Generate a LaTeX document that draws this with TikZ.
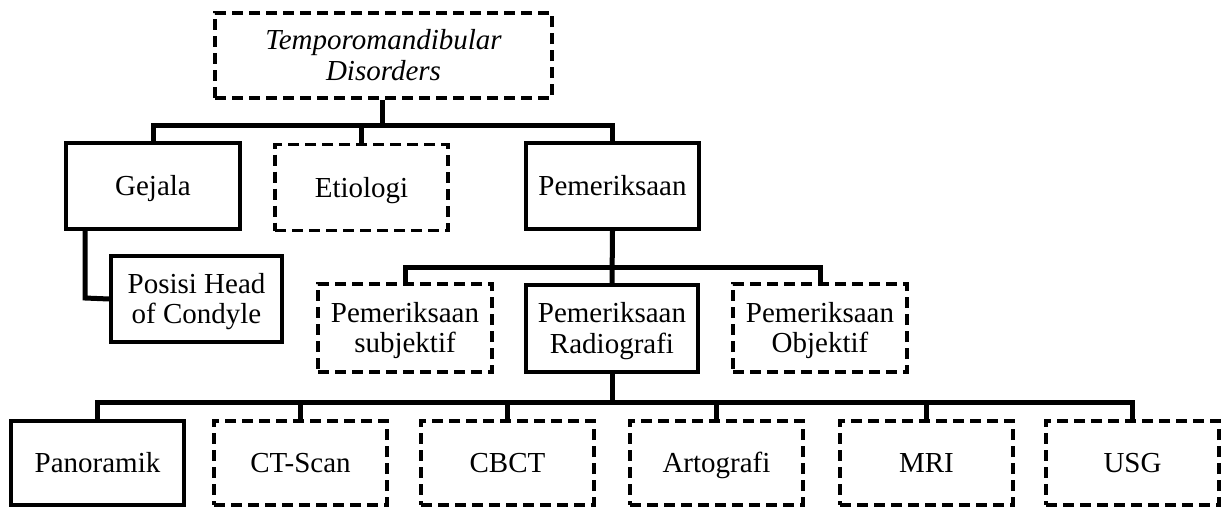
\documentclass[tikz,border=0pt]{standalone}
\usepackage{fontspec}
\setmainfont{Liberation Serif}
\begin{document}
\begin{tikzpicture}[x=1pt,y=-1pt,
  every node/.style={font=\fontsize{29}{30.5}\selectfont, align=center, inner sep=0pt, text height=19pt, text depth=0pt},
  twoline/.style={text height=49.5pt},
  solidbox/.style={draw=black, line width=3.5pt, rectangle, minimum width=#1, minimum height=86pt},
  solidbox/.default=173pt,
  dashbox/.style={draw=black, line width=3.2pt, rectangle, dash pattern=on 11pt off 6pt, minimum width=#1, minimum height=86pt},
  dashbox/.default=173pt,
  conn/.style={line width=5pt, line join=miter}]
\useasboundingbox (0,0) rectangle (1229,507);

% level 0
\node[dashbox=337pt, minimum height=85pt, twoline] (top) at (383.5,55.5) {\itshape Temporomandibular\\\itshape Disorders};

% level 1
\node[solidbox=174pt] (gej) at (153,186) {Gejala};
\node[dashbox] (eti) at (361.5,187.5) {Etiologi};
\node[solidbox] (pem) at (612.5,186) {Pemeriksaan};
\node[solidbox=171pt, twoline] (pos) at (196.5,299) {Posisi Head\\of Condyle};

% level 2
\node[dashbox=174pt, minimum height=88pt, twoline] (sub) at (405,328) {Pemeriksaan\\subjektif};
\node[solidbox=172pt, minimum height=87pt, twoline] (rad) at (612,328.5) {Pemeriksaan\\Radiografi};
\node[dashbox=174pt, minimum height=88pt, twoline] (obj) at (820,328) {Pemeriksaan\\Objektif};

% level 3
\node[solidbox, minimum height=84pt] (pan) at (97.5,463) {Panoramik};
\node[dashbox, minimum height=84pt] (cts) at (300.5,463) {CT-Scan};
\node[dashbox, minimum height=84pt] (cbct) at (507.5,463) {CBCT};
\node[dashbox, minimum height=84pt] (art) at (716.5,463) {Artografi};
\node[dashbox, minimum height=84pt] (mri) at (926.5,463) {MRI};
\node[dashbox, minimum height=84pt] (usg) at (1132.5,463) {USG};

% junctions
\coordinate (j1) at (382,125);
\coordinate (j2) at (612.5,267);
\coordinate (j3) at (612,402);
\coordinate (jp) at (85,298);

% connectors level 0 -> 1
\draw[conn] (top.south -| j1) -- (j1);
\draw[conn] (gej.north) |- (j1 -| pem.north) -- (pem.north);
\draw[conn] (eti.north) -- (eti.north |- j1);

% Gejala -> Posisi
\draw[conn] (gej.south -| jp) -- (jp) -- (pos.west);

% Pemeriksaan -> level 2
\draw[conn] (pem.south) -- (rad.north);
\draw[conn] (sub.north) |- (j2 -| obj.north) -- (obj.north);

% Radiografi -> level 3
\draw[conn] (rad.south) -- (j3);
\draw[conn] (pan.north) |- (j3 -| usg.north) -- (usg.north);
\draw[conn] (cts.north) -- (cts.north |- j3);
\draw[conn] (cbct.north) -- (cbct.north |- j3);
\draw[conn] (art.north) -- (art.north |- j3);
\draw[conn] (mri.north) -- (mri.north |- j3);
\end{tikzpicture}
\end{document}
